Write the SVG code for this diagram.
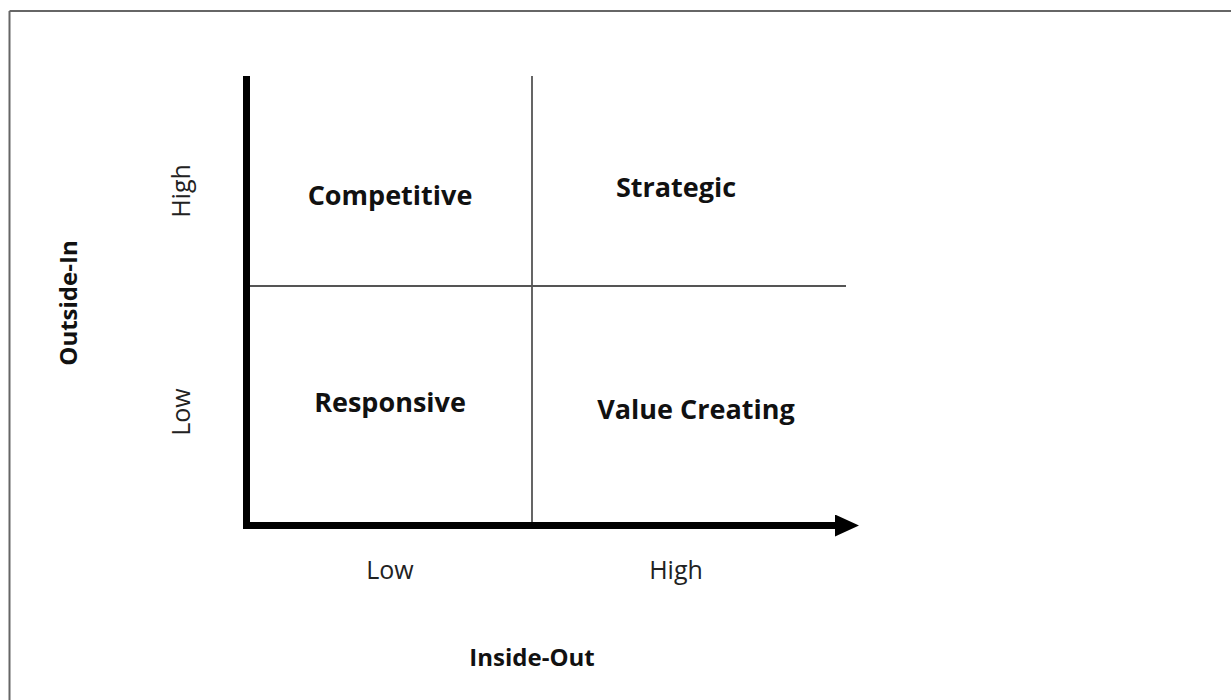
<svg xmlns="http://www.w3.org/2000/svg" width="1231" height="700" viewBox="0 0 1231 700">
<style>
.q{font-family:"Open Sans","Noto Sans",sans-serif;font-weight:bold;font-size:27px;fill:#111;text-anchor:middle}
.ax{font-family:"Open Sans","Noto Sans",sans-serif;font-weight:bold;font-size:24px;fill:#111;text-anchor:middle}
.lv{font-family:"Open Sans","Noto Sans",sans-serif;font-size:25px;fill:#222;text-anchor:middle}
</style>
<defs>
<marker id="ah" markerUnits="userSpaceOnUse" markerWidth="24" markerHeight="22" refX="0" refY="11" orient="auto">
<path d="M0,0 L24,11 L0,22 Z" fill="#000"/>
</marker>
</defs>
<rect width="1231" height="700" fill="#fff"/>
<g id="frame" stroke="#666" stroke-width="2" fill="none">
<line x1="9.5" y1="11" x2="1231" y2="11"/>
<line x1="9.5" y1="11" x2="9.5" y2="700"/>
</g>
<g id="connectors">
<line x1="532" y1="76" x2="532" y2="525" stroke="#555" stroke-width="1.8"/>
<line x1="247" y1="286" x2="846" y2="286" stroke="#555" stroke-width="1.8"/>
<line x1="246.5" y1="76" x2="246.5" y2="529" stroke="#000" stroke-width="7"/>
<line x1="243" y1="525.5" x2="835" y2="525.5" stroke="#000" stroke-width="7" marker-end="url(#ah)"/>
</g>
<g id="competitive"><text class="q" x="390" y="205">Competitive</text></g>
<g id="strategic"><text class="q" x="676" y="197">Strategic</text></g>
<g id="responsive"><text class="q" x="390" y="412">Responsive</text></g>
<g id="value-creating"><text class="q" x="696" y="419">Value Creating</text></g>
<g id="x-low"><text class="lv" x="390" y="579">Low</text></g>
<g id="x-high"><text class="lv" x="676" y="579">High</text></g>
<g id="x-title"><text class="ax" x="532" y="666">Inside-Out</text></g>
<g id="y-title"><text class="ax" transform="translate(77,303) rotate(-90)">Outside-In</text></g>
<g id="y-high"><text class="lv" transform="translate(190,191) rotate(-90)">High</text></g>
<g id="y-low"><text class="lv" transform="translate(190,412) rotate(-90)">Low</text></g>
</svg>
